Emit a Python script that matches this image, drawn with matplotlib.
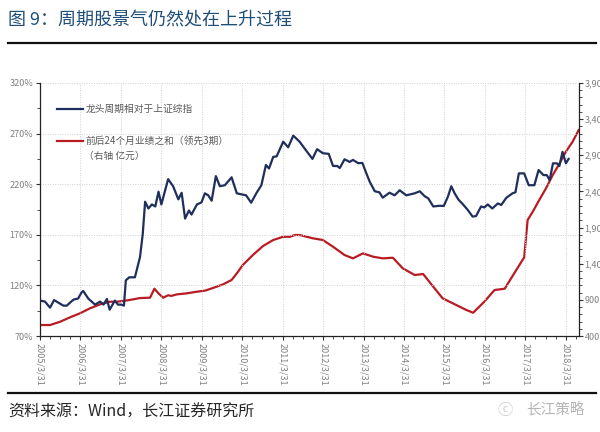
import matplotlib
matplotlib.use("Agg")
import matplotlib.pyplot as plt
import matplotlib.dates as mdates
from matplotlib.lines import Line2D
from matplotlib.ticker import FixedLocator, FuncFormatter
import pandas as pd

plt.rcParams['font.family'] = ['Noto Sans CJK SC', 'DejaVu Sans']

# 龙头周期相对于上证综指 (左轴, %)
blue_dates = ["2005-03-31", "2005-05-15", "2005-06-30", "2005-08-05", "2005-09-12",
              "2005-10-28", "2005-11-28", "2005-12-28", "2006-01-28", "2006-03-10",
              "2006-04-10", "2006-04-25", "2006-06-10", "2006-08-10", "2006-09-25",
              "2006-10-25", "2006-11-25", "2006-12-20", "2007-02-05", "2007-03-05",
              "2007-04-05", "2007-04-28", "2007-05-15", "2007-06-15", "2007-08-05",
              "2007-09-20", "2007-10-15", "2007-11-05", "2007-12-05", "2008-01-05",
              "2008-02-05", "2008-03-05", "2008-03-31", "2008-05-31", "2008-07-15",
              "2008-08-31", "2008-09-30", "2008-10-31", "2008-12-05", "2008-12-28",
              "2009-02-15", "2009-03-28", "2009-04-28", "2009-05-28", "2009-06-28",
              "2009-08-05", "2009-09-10", "2009-10-25", "2009-12-25", "2010-02-10",
              "2010-05-05", "2010-06-20", "2010-08-05", "2010-09-20", "2010-10-31",
              "2010-11-28", "2011-01-05", "2011-02-05", "2011-04-05", "2011-05-20",
              "2011-07-05", "2011-08-31", "2011-10-31", "2011-12-25", "2012-02-05",
              "2012-03-28", "2012-05-20", "2012-06-28", "2012-08-05", "2012-08-28",
              "2012-10-10", "2012-11-25", "2012-12-25", "2013-02-10", "2013-03-20",
              "2013-04-25", "2013-05-25", "2013-07-10", "2013-08-20", "2013-09-20",
              "2013-11-20", "2014-01-05", "2014-02-20", "2014-04-20", "2014-07-05",
              "2014-08-20", "2014-10-05", "2014-11-05", "2014-12-20", "2015-02-15",
              "2015-03-25", "2015-05-01", "2015-06-01", "2015-07-01", "2015-08-05",
              "2015-09-15", "2015-10-28", "2015-12-10", "2016-01-10", "2016-02-25",
              "2016-03-25", "2016-04-25", "2016-06-05", "2016-07-25", "2016-08-25",
              "2016-10-10", "2016-12-05", "2016-12-31", "2017-01-31", "2017-03-20",
              "2017-04-30", "2017-06-20", "2017-07-28", "2017-09-10", "2017-10-10",
              "2017-11-05", "2017-12-05", "2018-01-10", "2018-02-01", "2018-03-01",
              "2018-04-01", "2018-04-25"]
blue_vals = [105, 104, 98, 105.5, 103,
             100, 100, 103, 106, 107,
             113, 114.5, 107, 101, 104,
             101, 106.6, 96, 105, 101,
             101, 100, 125, 128, 128,
             148, 171, 202.7, 196, 200,
             198, 212.6, 200, 225, 218,
             205, 211.5, 186, 194, 190,
             200, 202, 211, 209, 203.7,
             228, 218, 219, 226.8, 211,
             209, 201.7, 211, 219, 239,
             235.5, 247, 247.5, 262, 256.5,
             268, 262, 253, 245, 254.6,
             250.6, 250, 238, 238, 236,
             244.6, 242, 244, 240.8, 241,
             230.7, 222.5, 213, 212, 206.7,
             211.6, 209, 214, 209, 211,
             213, 208, 206, 198, 198.7,
             198.5, 207.6, 218, 211, 204.7,
             200, 194.5, 188, 188.5, 198,
             197, 200, 196, 201, 199.5,
             206.6, 211, 212, 230.7, 230.7,
             219, 219, 234, 229, 229,
             224, 240.6, 240.6, 238, 252,
             240.6, 245]

# 前后24个月业绩之和 (右轴, 亿元)
red_dates = ["2005-03-31", "2005-06-30", "2005-09-30", "2005-12-28", "2006-03-28",
             "2006-06-25", "2006-09-25", "2006-12-20", "2007-02-20", "2007-05-05",
             "2007-07-20", "2007-09-20", "2007-12-20", "2008-01-28", "2008-03-05",
             "2008-04-15", "2008-05-31", "2008-06-30", "2008-08-15", "2008-11-15",
             "2009-02-15", "2009-04-28", "2009-07-10", "2009-10-10", "2009-12-25",
             "2010-02-15", "2010-04-05", "2010-07-05", "2010-10-05", "2011-01-05",
             "2011-04-05", "2011-06-05", "2011-07-20", "2011-08-31", "2011-12-31",
             "2012-03-28", "2012-06-28", "2012-10-10", "2012-12-25", "2013-03-25",
             "2013-06-25", "2013-09-20", "2013-12-20", "2014-03-20", "2014-07-05",
             "2014-09-20", "2014-12-20", "2015-03-15", "2015-07-15", "2015-10-15",
             "2015-12-15", "2016-03-25", "2016-06-25", "2016-09-25", "2016-12-20",
             "2017-03-20", "2017-04-20", "2017-06-05", "2017-08-03", "2017-10-03",
             "2017-12-03", "2018-02-03", "2018-03-31", "2018-05-31", "2018-07-25"]
red_vals = [552, 552, 598, 659, 714,
            783, 838, 874, 874, 887,
            907, 925, 930, 1054, 990,
            930, 963, 955, 975, 990,
            1013, 1027, 1064, 1115, 1175,
            1276, 1382, 1520, 1645, 1728,
            1773, 1773, 1797, 1797, 1751,
            1728, 1635, 1520, 1474, 1543,
            1497, 1474, 1483, 1336, 1244,
            1257, 1082, 921, 829, 760,
            722, 874, 1036, 1054, 1267,
            1488, 2004, 2119, 2281, 2443,
            2627, 2788, 2949, 3087, 3249]

left_ticks = [70, 120, 170, 220, 270, 320]
right_ticks = [400, 900, 1400, 1900, 2400, 2900, 3400, 3900]

title = "图 9：周期股景气仍然处在上升过程"
label_blue = "龙头周期相对于上证综指"
label_red = "前后24个月业绩之和（领先3期）"
label_red2 = "（右轴 亿元）"
source = "资料来源：Wind，长江证券研究所"

navy = "#1f2f5c"
red = "#b81c22"
gray = "#7f7f7f"

fig = plt.figure(figsize=(6, 4.32), dpi=100)
ax = fig.add_axes([40 / 600, 1 - 336 / 432, 539 / 600, 253 / 432])
ax2 = ax.twinx()

bd = pd.to_datetime(blue_dates)
rd = pd.to_datetime(red_dates)
ax2.plot(rd, red_vals, color=red, lw=1.6, solid_joinstyle='round')
ax.plot(bd, blue_vals, color=navy, lw=1.6, solid_joinstyle='round')
ax.set_zorder(ax2.get_zorder() + 1)
ax.patch.set_visible(False)

ax.set_xlim(pd.Timestamp("2005-03-31"), pd.Timestamp("2018-07-28"))
ax.set_ylim(left_ticks[0], left_ticks[-1])
ax2.set_ylim(right_ticks[0], right_ticks[-1])

# x ticks at each 3/31
years = pd.date_range("2005-03-31", "2018-03-31", freq="12ME")
ax.set_xticks(years)
ax.set_xticklabels([f"{d.year}/3/31" for d in years])
ax.xaxis.set_minor_locator(mdates.MonthLocator(bymonth=[6, 9, 12], bymonthday=30))
for lab in ax.get_xticklabels():
    lab.set_rotation(-90)
    lab.set_va('top')
    lab.set_ha('center')

ax.yaxis.set_major_locator(FixedLocator(left_ticks))
ax.yaxis.set_minor_locator(FixedLocator([t + 25 for t in left_ticks[:-1]]))
ax.yaxis.set_major_formatter(FuncFormatter(lambda v, p: f"{v:.0f}%"))
ax2.yaxis.set_major_locator(FixedLocator(right_ticks))
ax2.yaxis.set_minor_locator(FixedLocator(range(right_ticks[0], right_ticks[-1], 100)))
ax2.yaxis.set_major_formatter(FuncFormatter(lambda v, p: f"{v:,.0f}"))

ax.tick_params(axis='both', which='major', labelsize=6.5, labelcolor=gray,
               length=3, width=0.8, color='#333333', pad=2)
ax.tick_params(axis='both', which='minor', length=2, width=0.6, color='#333333')
ax2.tick_params(axis='y', which='major', labelsize=6.5, labelcolor=gray,
                length=3, width=0.8, color='#333333', pad=1)
ax2.tick_params(axis='y', which='minor', length=2, width=0.6, color='#333333')

ax.grid(True, which='major', color='#d0d0d0', lw=0.7, ls=(0, (1, 1.5)))
for sp in ['left', 'bottom']:
    ax.spines[sp].set_color('#222222')
    ax.spines[sp].set_linewidth(0.9)
ax.spines['top'].set_visible(False)
ax.spines['right'].set_visible(False)
ax2.spines['top'].set_visible(False)
ax2.spines['left'].set_visible(False)
ax2.spines['bottom'].set_visible(False)
ax2.spines['right'].set_color('#222222')
ax2.spines['right'].set_linewidth(0.9)

# legend drawn by hand (no frame)
def fx(px):
    return (px - 40) / 539

def fy(py):
    return (336 - py) / 253

ax.add_line(Line2D([fx(57), fx(83)], [fy(109), fy(109)], transform=ax.transAxes,
                   color=navy, lw=1.6))
ax.add_line(Line2D([fx(57), fx(83)], [fy(141), fy(141)], transform=ax.transAxes,
                   color=red, lw=1.6))
ax.text(fx(86), fy(109), label_blue, transform=ax.transAxes, fontsize=7,
        color='#595959', va='center', ha='left')
ax.text(fx(86), fy(141), label_red, transform=ax.transAxes, fontsize=7,
        color='#595959', va='center', ha='left')
ax.text(fx(84), fy(156), label_red2, transform=ax.transAxes, fontsize=7,
        color='#595959', va='center', ha='left')

# title, rules and source
fig.text(8 / 600, 1 - 20 / 432, title, fontsize=13, color='#1f4e79',
         va='center', ha='left')
fig.add_artist(Line2D([8 / 600, 596 / 600], [1 - 43 / 432, 1 - 43 / 432],
                      color='#111111', lw=1.6))
fig.add_artist(Line2D([8 / 600, 596 / 600], [1 - 393 / 432, 1 - 393 / 432],
                      color='#111111', lw=1.6))
fig.text(8 / 600, 1 - 412 / 432, source, fontsize=11.5, color='#262626',
         va='center', ha='left')
fig.text(585 / 600, 1 - 410 / 432, "长江策略", fontsize=10.5, color='#b5b5b5',
         va='center', ha='right')
fig.text(505 / 600, 1 - 410 / 432, "ⓒ", fontsize=11, color='#cccccc',
         va='center', ha='center')

fig.savefig("out.png", dpi=100)
